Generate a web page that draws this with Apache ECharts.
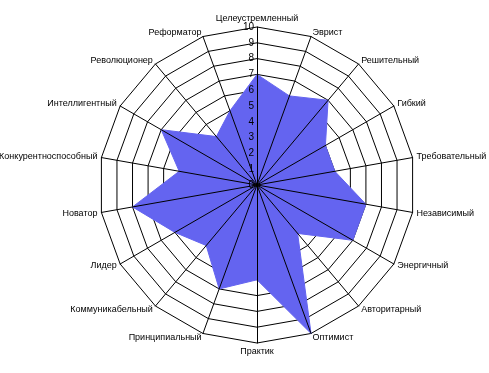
<!DOCTYPE html>
<html><head><meta charset="utf-8">
<script src="https://cdn.jsdelivr.net/npm/echarts@6/dist/echarts.min.js"></script>
<style>html,body{margin:0;padding:0;background:#fff}#c{width:489px;height:373px}</style>
</head><body><div id="c"></div>
<script>
const categories = ['Целеустремленный','Эврист','Решительный','Гибкий','Требовательный','Независимый','Энергичный','Авторитарный','Оптимист','Практик','Принципиальный','Коммуникабельный','Лидер','Новатор','Конкурентноспособный','Интеллигентный','Революционер','Реформатор'];
const values = [7,6,7,5,5,7,7,4,10,6,7,5,6,8,5,7,4,5];
const tickLabels = ['0','1','2','3','4','5','6','7','8','9','10'];

const CX = 257, CY = 185, R = 158;
const font = 'Liberation Sans, Arial, sans-serif';
// ECharts radar runs counter-clockwise; reorder so the chart reads clockwise
const order = [0].concat(categories.map((_, i) => i).slice(1).reverse());
const cats = order.map(i => categories[i]);
const vals = order.map(i => values[i]);
const chart = echarts.init(document.getElementById('c'));
chart.setOption({
  animation: false,
  backgroundColor: '#fff',
  radar: [{
    center: [CX, CY], radius: R, startAngle: 90, shape: 'polygon', splitNumber: 10,
    indicator: cats.map(n => ({name: n, min: 0, max: 10})),
    axisName: {color: '#000', fontSize: 9, fontFamily: font},
    nameGap: 4,
    axisLine: {show: false},
    splitLine: {lineStyle: {color: '#000', width: 1}},
    splitArea: {show: false},
    axisTick: {show: false}, axisLabel: {show: false},
    z: 1
  }, {
    center: [CX, CY], radius: R, startAngle: 90, shape: 'polygon', splitNumber: 10,
    indicator: cats.map(n => ({name: '', min: 0, max: 10})),
    axisName: {show: false},
    axisLine: {lineStyle: {color: '#000', width: 1}},
    splitLine: {show: false}, splitArea: {show: false},
    axisTick: {show: false}, axisLabel: {show: false},
    z: 5
  }],
  grid: {left: CX, top: CY - R, height: R, width: 1, z: 10},
  xAxis: {type: 'value', show: false},
  yAxis: {type: 'value', min: 0, max: 10, interval: 1, z: 10,
    axisLine: {show: false}, axisTick: {show: false}, splitLine: {show: false},
    axisLabel: {color: '#000', fontSize: 10, fontFamily: font, margin: 3,
      formatter: v => tickLabels[v]}},
  series: [{
    type: 'radar', radarIndex: 0, symbol: 'none', z: 3,
    lineStyle: {color: '#6464f0', width: 1},
    areaStyle: {color: '#6464f0', opacity: 1},
    data: [{value: vals}]
  }]
});
</script></body></html>
